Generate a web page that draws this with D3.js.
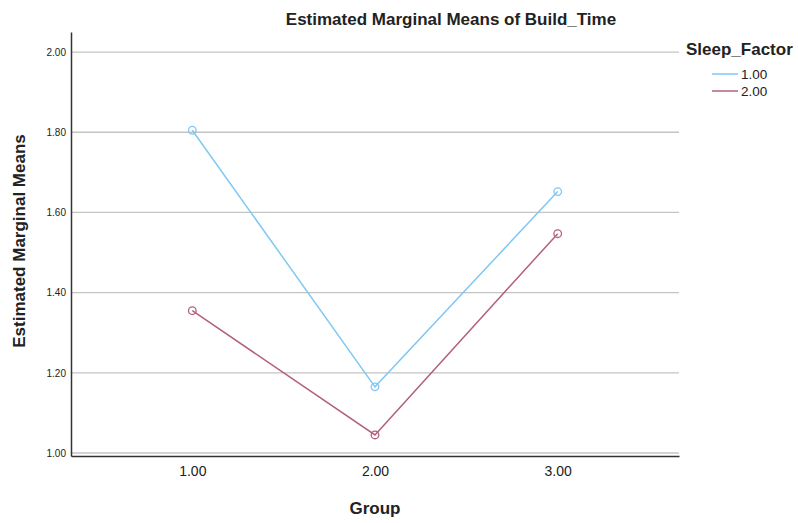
<!DOCTYPE html>
<html>
<head>
<meta charset="utf-8">
<script src="https://cdn.jsdelivr.net/npm/d3@7"></script>
<style>
  body { margin: 0; background: #fff; }
  text { font-family: "Liberation Sans", Arial, sans-serif; fill: #222; }
</style>
</head>
<body>
<div id="chart-area"></div>
<script>
const groups = [1, 2, 3]
const groupLabels = ["1.00", "2.00", "3.00"]
const sleepFactors = ["1.00", "2.00"]
const series1 = [1.805, 1.165, 1.652]
const series2 = [1.355, 1.045, 1.547]
const yTicks = [1.0, 1.2, 1.4, 1.6, 1.8, 2.0]
const colors = ["#7fc8f4", "#b3607c"]

const W = 798, H = 523
const MARGIN = { LEFT: 71, RIGHT: 119, TOP: 32, BOTTOM: 67 }
const WIDTH = W - MARGIN.LEFT - MARGIN.RIGHT
const HEIGHT = H - MARGIN.TOP - MARGIN.BOTTOM

const svg = d3.select("#chart-area").append("svg")
  .attr("width", W)
  .attr("height", H)

const g = svg.append("g")
  .attr("transform", `translate(${MARGIN.LEFT}, ${MARGIN.TOP})`)

const x = d3.scaleLinear().domain([0.336, 3.664]).range([0, WIDTH])
const y = d3.scaleLinear().domain([0.9925, 2.05]).range([HEIGHT, 0])

// gridlines
g.selectAll(".grid").data(yTicks).enter().append("line")
  .attr("x1", 0).attr("x2", WIDTH)
  .attr("y1", d => y(d)).attr("y2", d => y(d))
  .attr("stroke", "#c4c4c4").attr("stroke-width", 1.3)

// axes
const yAxis = g.append("g")
  .call(d3.axisLeft(y).tickValues(yTicks).tickFormat(d3.format(".2f")).tickSize(0).tickPadding(5))
yAxis.select(".domain").attr("stroke", "#333").attr("stroke-width", 1.5)
yAxis.selectAll("text").style("font-size", "10px").attr("fill", "#222")

const xAxis = g.append("g")
  .attr("transform", `translate(0, ${HEIGHT})`)
  .call(d3.axisBottom(x).tickValues(groups).tickFormat((d, i) => groupLabels[i]).tickSize(0).tickPadding(10))
xAxis.select(".domain").attr("stroke", "#333").attr("stroke-width", 1.5)
xAxis.selectAll("text").style("font-size", "14px").attr("fill", "#222")

// lines
const allSeries = [series1, series2]
const line = d3.line().x((d, i) => x(groups[i])).y(d => y(d))

allSeries.forEach((s, k) => {
  g.append("path").datum(s)
    .attr("d", line)
    .attr("fill", "none")
    .attr("stroke", colors[k])
    .attr("stroke-width", 1.5)
  g.selectAll(".pt" + k).data(s).enter().append("circle")
    .attr("cx", (d, i) => x(groups[i]))
    .attr("cy", d => y(d))
    .attr("r", 3.8)
    .attr("fill", "none")
    .attr("stroke", colors[k])
    .attr("stroke-width", 1.3)
})

// title
svg.append("text")
  .attr("x", 451).attr("y", 25)
  .attr("text-anchor", "middle")
  .style("font-size", "17px").style("font-weight", "bold")
  .text("Estimated Marginal Means of Build_Time")

// axis titles
svg.append("text")
  .attr("x", 375).attr("y", 514)
  .attr("text-anchor", "middle")
  .style("font-size", "17px").style("font-weight", "bold")
  .text("Group")

svg.append("text")
  .attr("transform", "translate(25, 241) rotate(-90)")
  .attr("text-anchor", "middle")
  .style("font-size", "17px").style("font-weight", "bold")
  .text("Estimated Marginal Means")

// legend
svg.append("text")
  .attr("x", 686).attr("y", 55)
  .style("font-size", "17px").style("font-weight", "bold")
  .text("Sleep_Factor")

const leg = svg.selectAll(".leg").data(sleepFactors).enter().append("g")
  .attr("transform", (d, i) => `translate(712, ${74 + i * 17})`)
leg.append("line")
  .attr("x1", 0).attr("x2", 26)
  .attr("stroke", (d, i) => colors[i]).attr("stroke-width", 1.5)
leg.append("text")
  .attr("x", 29).attr("y", 5)
  .style("font-size", "13.5px")
  .text(d => d)
</script>
</body>
</html>
